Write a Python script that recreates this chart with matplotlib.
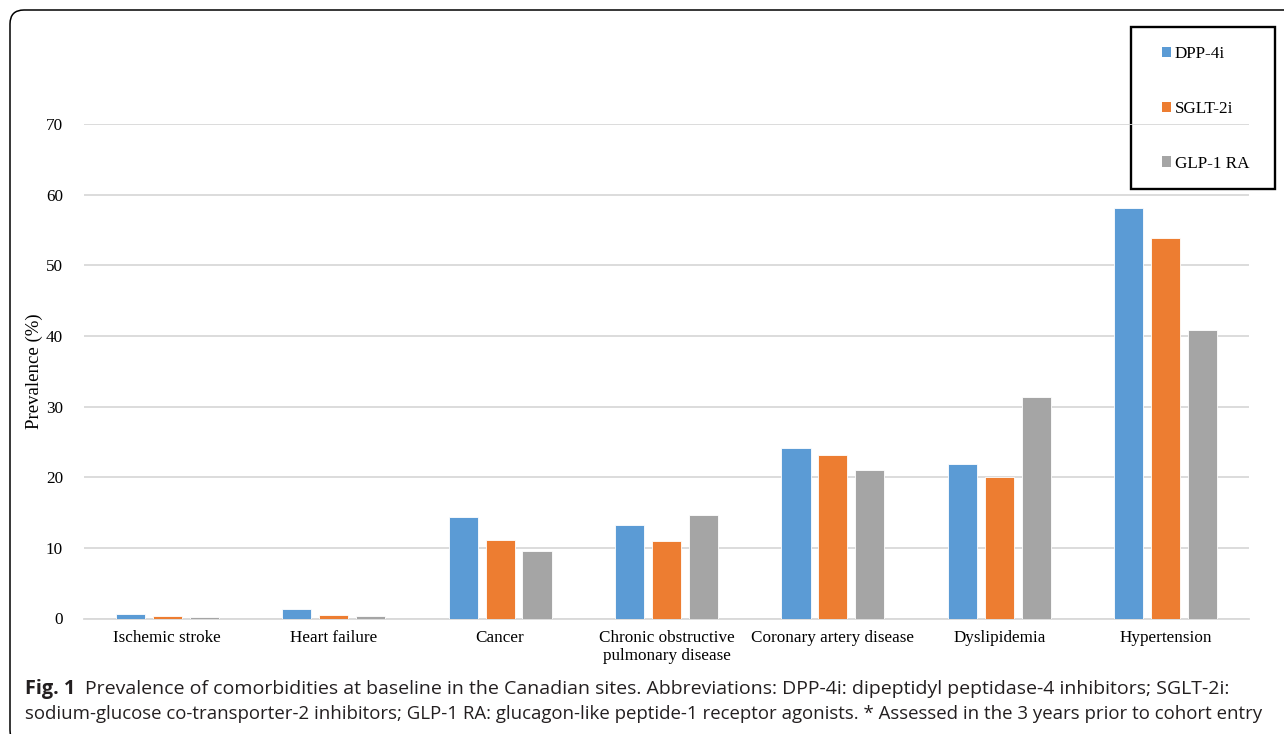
import matplotlib
matplotlib.use("Agg")
import matplotlib.pyplot as plt
from matplotlib.patches import Rectangle, Patch, PathPatch
from matplotlib.path import Path
import numpy as np

categories = ["Ischemic stroke", "Heart failure", "Cancer",
              "Chronic obstructive\npulmonary disease", "Coronary artery disease",
              "Dyslipidemia", "Hypertension"]
series_names = ["DPP-4i", "SGLT-2i", "GLP-1 RA"]
dpp4i = [0.7, 1.4, 14.3, 13.2, 24.2, 21.9, 58.1]
sglt2i = [0.3, 0.55, 11.1, 10.9, 23.1, 20.0, 53.9]
glp1ra = [0.15, 0.4, 9.5, 14.6, 21.0, 31.4, 40.9]
y_ticks = [0, 10, 20, 30, 40, 50, 60, 70]
colors = ["#5B9BD5", "#ED7D31", "#A5A5A5"]

serif = "Liberation Serif"
sans = ["Open Sans", "Noto Sans", "DejaVu Sans"]

W, H = 1284, 734
fig = plt.figure(figsize=(W / 100, H / 100), dpi=100)

# background layer in pixel units for the rounded panel frame and legend box
bg = fig.add_axes([0, 0, 1, 1], zorder=0)
bg.set_xlim(0, W)
bg.set_ylim(H, 0)
bg.axis("off")
r = 14
left, top, bottom, far = 10, 10, 744, W + 20
verts = [(far, top), (left + r, top), (left, top), (left, top + r),
         (left, bottom - r), (left, bottom), (left + r, bottom), (far, bottom)]
codes = [Path.MOVETO, Path.LINETO, Path.CURVE3, Path.CURVE3,
         Path.LINETO, Path.CURVE3, Path.CURVE3, Path.LINETO]
bg.add_patch(PathPatch(Path(verts, codes), fill=False, edgecolor="black",
                       linewidth=1.1, clip_on=False))
bg.add_patch(Rectangle((1131, 27), 144, 162, fill=False, edgecolor="black",
                       linewidth=1.7, zorder=5))

ax = fig.add_axes([84 / W, 1 - 618.5 / H, (1249 - 84) / W, (618.5 - 124) / H],
                  zorder=1)
ax.patch.set_visible(False)

x = np.arange(len(categories))
width = 0.175
step = 0.222
for i, (vals, name) in enumerate(zip([dpp4i, sglt2i, glp1ra], series_names)):
    ax.bar(x + (i - 1) * step, vals, width, color=colors[i], label=name,
           edgecolor="white", linewidth=0.6, zorder=3)

ax.set_xlim(-0.5, len(categories) - 0.5)
ax.set_ylim(0, 70)
ax.set_yticks(y_ticks)
ax.set_yticklabels([str(t) for t in y_ticks], fontfamily=serif, fontsize=12.3)
ax.set_xticks(x)
ax.set_xticklabels(categories, fontfamily=serif, fontsize=12.3, linespacing=1.2,
                   va="top")
ax.tick_params(axis="both", length=0)
ax.tick_params(axis="x", pad=8)
ax.tick_params(axis="y", pad=15)
ax.yaxis.grid(True, color="#D9D9D9", linewidth=1.3, zorder=0)
ax.set_axisbelow(True)
for s in ["top", "right", "left"]:
    ax.spines[s].set_visible(False)
ax.spines["bottom"].set_color("#D9D9D9")
ax.spines["bottom"].set_linewidth(1.3)
ax.set_ylabel("Prevalence (%)", fontfamily=serif, fontsize=13.5, labelpad=2)

handles = [Patch(facecolor=c, edgecolor="none") for c in colors]
leg = fig.legend(handles, series_names, loc="upper left",
                 bbox_to_anchor=(1162 / W, 1 - 46 / H),
                 prop={"family": serif, "size": 12.3},
                 frameon=False, borderaxespad=0, borderpad=0,
                 handlelength=0.55, handleheight=0.55, handletextpad=0.2,
                 labelspacing=2.27)

# caption
cap_y1 = 1 - 689 / H
cap_y2 = 1 - 714 / H
fig.text(25 / W, cap_y1, "Fig. 1", fontfamily=sans, fontweight="bold",
         fontsize=14.3, va="center", ha="left", color="#231F20")
fig.text(85 / W, cap_y1,
         "Prevalence of comorbidities at baseline in the Canadian sites. "
         "Abbreviations: DPP-4i: dipeptidyl peptidase-4 inhibitors; SGLT-2i:",
         fontfamily=sans, fontsize=14.0, va="center", ha="left", color="#231F20")
fig.text(25 / W, cap_y2,
         "sodium-glucose co-transporter-2 inhibitors; GLP-1 RA: glucagon-like "
         "peptide-1 receptor agonists. * Assessed in the 3 years prior to cohort entry",
         fontfamily=sans, fontsize=13.4, va="center", ha="left", color="#231F20")

fig.savefig("out.png", dpi=100)
